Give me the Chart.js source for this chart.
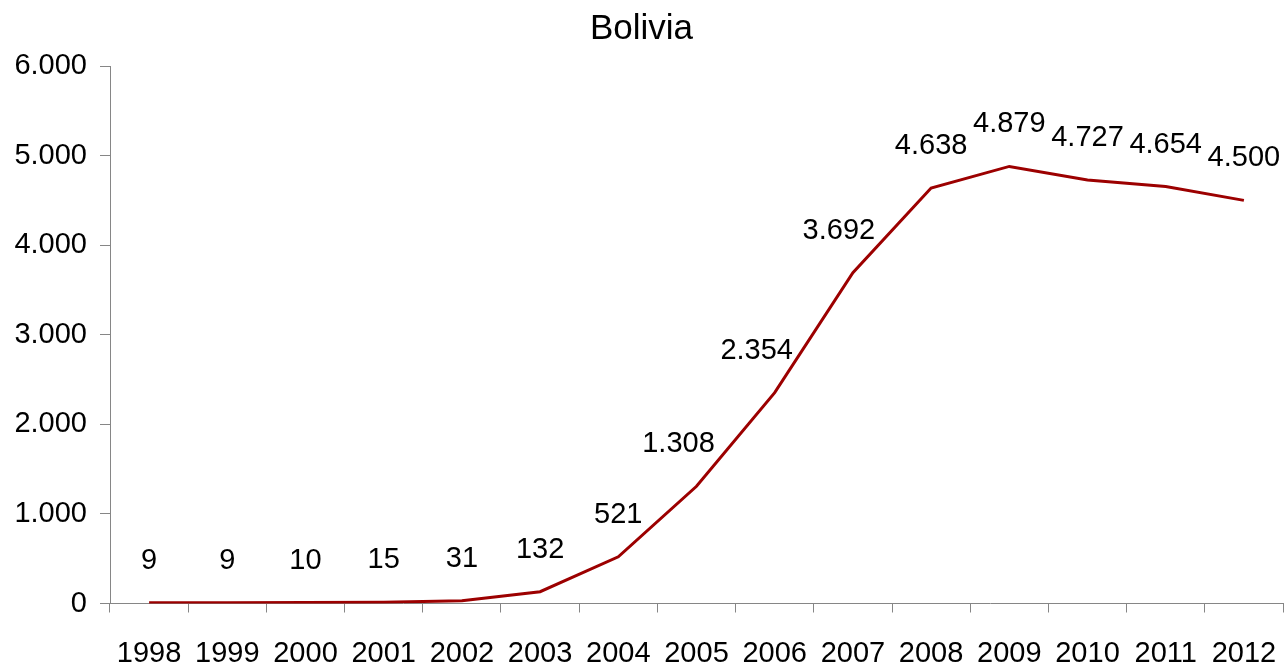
<!DOCTYPE html>
<html>
<head>
<meta charset="utf-8">
<title>Bolivia</title>
<script src="https://cdn.jsdelivr.net/npm/chart.js@4"></script>
<style>
  body { margin: 0; background: #fff; }
  #wrap { width: 1286px; height: 667px; }
</style>
</head>
<body>
<div id="wrap"><canvas id="chart" width="1286" height="667"></canvas></div>
<script>
const years = ['1998', '1999', '2000', '2001', '2002', '2003', '2004', '2005',
  '2006', '2007', '2008', '2009', '2010', '2011', '2012'];
const values = [9, 9, 10, 15, 31, 132, 521, 1308, 2354, 3692, 4638, 4879, 4727, 4654, 4500];
const yTicks = [0, 1000, 2000, 3000, 4000, 5000, 6000];

const FONT = "'Liberation Sans', Arial, sans-serif";
const AXIS_GREY = '#868686';

function formatNum(v) {
  return String(v).replace(/\B(?=(\d{3})+(?!\d))/g, '.');
}

// value labels above each point (a few were nudged left in the original)
const pointLabels = {
  id: 'pointLabels',
  afterDatasetsDraw(chart) {
    const ctx = chart.ctx;
    const nudge = { 7: -18, 8: -18, 9: -14 };
    const meta = chart.getDatasetMeta(0);
    ctx.save();
    ctx.font = '29px ' + FONT;
    ctx.fillStyle = '#000';
    ctx.textAlign = 'center';
    ctx.textBaseline = 'middle';
    meta.data.forEach((pt, i) => {
      ctx.fillText(formatNum(values[i]), pt.x + (nudge[i] || 0), pt.y - 42);
    });
    ctx.restore();
  }
};

const chart = new Chart(document.getElementById('chart'), {
  type: 'line',
  data: {
    labels: years,
    datasets: [{
      data: values,
      borderColor: '#9c0000',
      borderWidth: 3,
      pointRadius: 0,
      tension: 0,
      fill: false
    }]
  },
  options: {
    responsive: false,
    animation: false,
    devicePixelRatio: 1,
    layout: { padding: { left: 0, right: 3, top: 0, bottom: 0 } },
    plugins: {
      legend: { display: false },
      tooltip: { enabled: false },
      title: {
        display: true,
        text: 'Bolivia',
        color: '#000',
        font: { family: FONT, size: 35, weight: 'normal' },
        padding: { top: 8, bottom: 16 }
      }
    },
    scales: {
      x: {
        offset: true,
        grid: {
          offset: true,
          drawOnChartArea: false,
          drawTicks: true,
          tickLength: 9,
          color: AXIS_GREY
        },
        border: { display: true, color: AXIS_GREY, width: 1 },
        ticks: {
          color: '#000',
          font: { family: FONT, size: 29 },
          padding: 24,
          maxRotation: 0,
          autoSkip: false
        },
        afterFit(scale) {
          scale.height = 63.5;
          scale.paddingLeft = 0;
          scale.paddingRight = 0;
        }
      },
      y: {
        min: 0,
        max: 6000,
        afterBuildTicks(scale) { scale.ticks = yTicks.map(v => ({ value: v })); },
        grid: {
          drawOnChartArea: false,
          drawTicks: true,
          tickLength: 10,
          color: AXIS_GREY
        },
        border: { display: true, color: AXIS_GREY, width: 1 },
        ticks: {
          color: '#000',
          font: { family: FONT, size: 29 },
          padding: 13,
          callback: v => formatNum(v)
        },
        afterFit(scale) { scale.width = 110; }
      }
    }
  },
  plugins: [pointLabels]
});
</script>
</body>
</html>
